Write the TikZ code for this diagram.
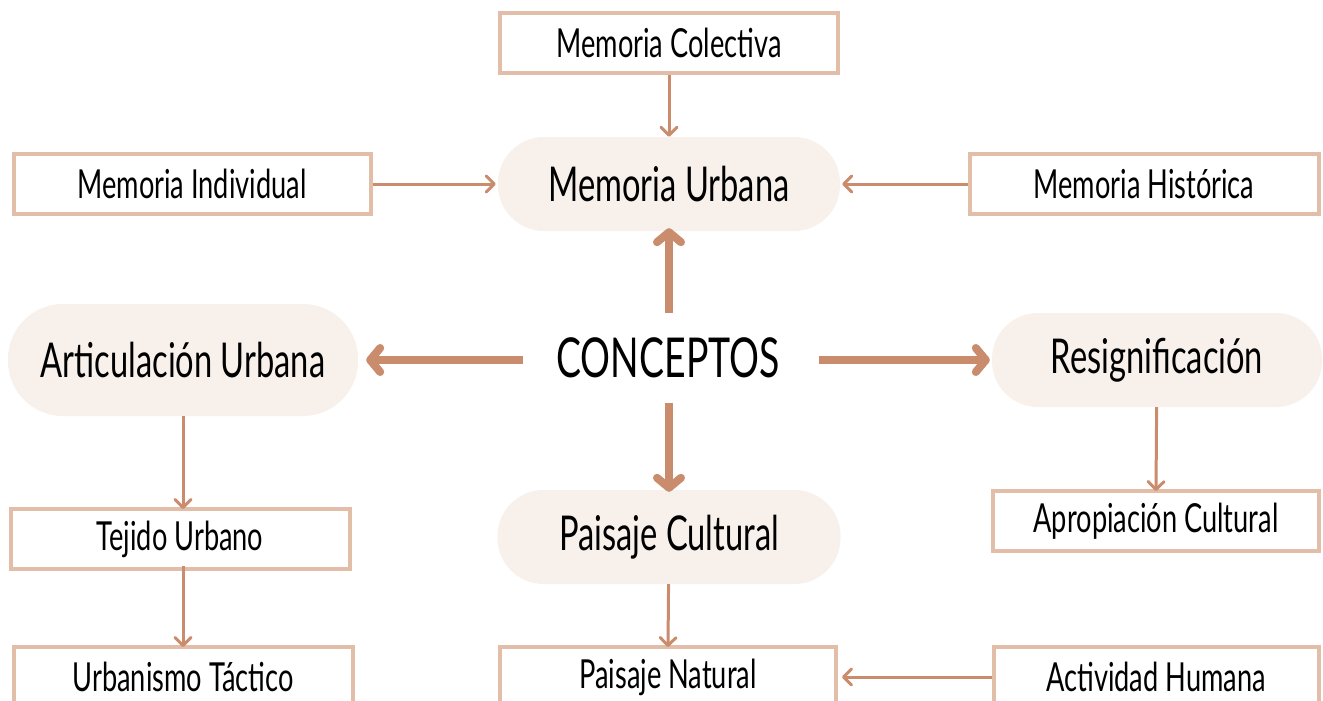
\documentclass[tikz,border=0pt]{standalone}
\usepackage{fontspec}
\setmainfont{Lato}[FakeStretch=0.68]
\usepackage{tikz}
\usetikzlibrary{arrows.meta}

\definecolor{cobre}{HTML}{C98C6C}
\definecolor{borde}{HTML}{E2BDA8}
\definecolor{crema}{HTML}{F7F0EB}

\begin{document}
\begin{tikzpicture}[x=1pt,y=-1pt,
    caja/.style={draw=borde,line width=4pt,fill=white,minimum height=60pt,
      font=\fontsize{40}{44}\selectfont},
    pill/.style={fill=crema,rounded corners=46pt,minimum height=94pt,
      font=\fontsize{48}{52}\selectfont},
    flecha/.style={draw=cobre,line width=3pt,
      -{Straight Barb[round,length=8pt,width=16pt]}},
    gruesa/.style={draw=cobre,line width=8pt,
      -{Straight Barb[round,length=10pt,width=24pt]}}]
  \useasboundingbox (0,0) rectangle (1323,701);
          \node[caja,minimum width=338pt] (MC) at (669,43) {Memoria Colectiva};
          \node[pill,minimum width=342pt] (MU) at (669,184) {Memoria Urbana};
          \node[caja,minimum width=357pt] (MI) at (192,184) {Memoria Individual};
          \node[caja,minimum width=349pt] (MH) at (1144,184) {Memoria Histórica};
          \node[font=\fontsize{55}{60}\selectfont] (C) at (668,358) {CONCEPTOS};
          \node[pill,minimum width=350pt,minimum height=112pt,rounded corners=55pt] (AU) at (183,360) {Articulación Urbana};
          \node[pill,minimum width=330pt] (R) at (1157,360) {Resignificación};
          \node[pill,minimum width=343pt] (PC) at (669,537) {Paisaje Cultural};
          \node[caja,minimum width=339pt] (TU) at (180,539) {Tejido Urbano};
          \node[caja,minimum width=339pt] (UT) at (183,677) {Urbanismo Táctico};
          \node[caja,minimum width=326pt] (AC) at (1156,521) {Apropiación Cultural};
          \node[caja,minimum width=336pt] (PN) at (668,677) {Paisaje Natural};
          \node[caja,minimum width=325pt] (AH) at (1156,677) {Actividad Humana};
          \draw[flecha] (MC) to (MU);
          \draw[flecha] (MI) to ([xshift=-2pt]MU.west);
          \draw[flecha] (MH) to ([xshift=2pt]MU.east);
          \draw[gruesa] (669,313) to ([yshift=3pt]MU.south);
          \draw[gruesa] (523,360) to ([xshift=8pt]AU.east);
          \draw[gruesa] (819,360) to ([xshift=-2pt]R.west);
          \draw[gruesa] (669,403) to ([yshift=-2pt]PC.north);
          \draw[flecha] (AU) to ([yshift=-2pt]TU.north -| AU);
          \draw[flecha] ([yshift=5pt]TU.south -| AU) to ([yshift=-2pt]UT.north -| AU);
          \draw[flecha] (R) to ([yshift=-2pt]AC.north);
          \draw[flecha] (PC) to ([yshift=-2pt]PN.north);
          \draw[flecha] (AH) to ([xshift=4pt]PN.east);
        \end{tikzpicture}
\end{document}
